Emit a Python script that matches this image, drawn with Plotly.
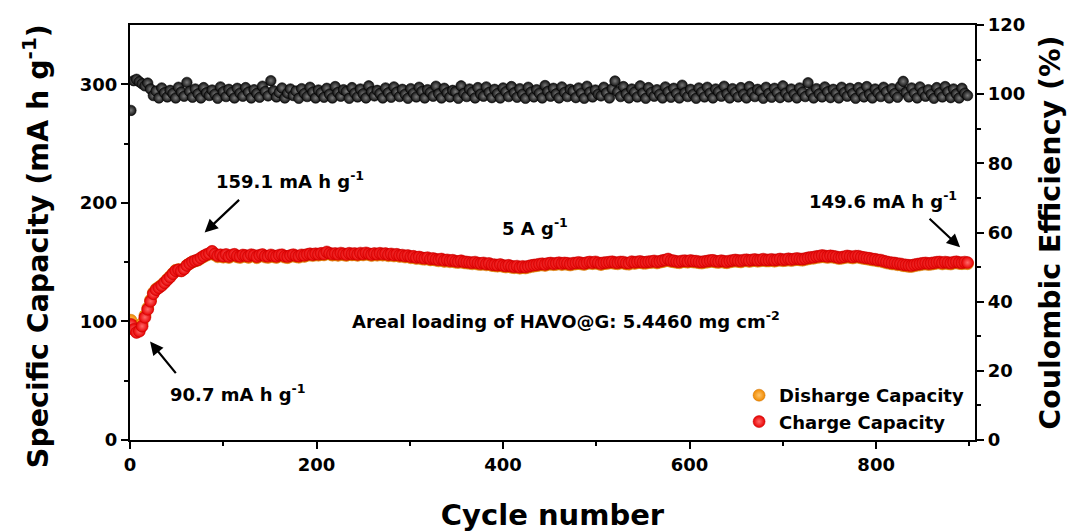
import plotly.graph_objects as go

# Cycle index (every 3rd cycle recorded)
cycles = list(range(1, 901, 3))

charge_capacity = [
    97.5, 93.2, 90.7, 91.8, 96.0, 103.5, 110.2, 117.0, 123.4, 126.8,
    128.5, 130.2, 132.6, 135.1, 137.4, 140.2, 142.8, 143.5, 142.6, 144.3,
    147.2, 148.8, 150.3, 151.2, 152.0, 153.6, 155.1, 156.4, 157.3, 159.1,
    156.9, 155.4, 156.2, 155.0, 156.5, 154.7, 155.9, 156.6, 155.2, 154.8,
    156.0, 155.5, 154.9, 156.3, 155.7, 154.6, 155.8, 156.4, 155.1, 154.9,
    156.1, 155.3, 154.8, 155.9, 156.2, 155.0, 154.7, 155.6, 156.3, 155.4,
    155.0, 156.1, 155.7, 156.5, 157.0, 156.3, 157.1, 156.6, 157.4, 156.9,
    158.6, 157.5, 156.8, 157.3, 156.6, 157.6, 157.0, 156.4, 157.5, 156.9,
    157.2, 156.5, 157.6, 156.9, 157.8, 157.1, 156.4, 157.3, 156.7, 157.5,
    156.8, 157.2, 156.3, 156.9, 156.1, 156.6, 155.7, 155.9, 155.2, 155.5,
    154.6, 154.9, 153.9, 154.3, 153.6, 153.2, 153.8, 152.7, 153.1, 152.4,
    152.0, 152.6, 151.5, 151.9, 151.2, 151.6, 150.8, 150.5, 151.1, 150.3,
    150.1, 149.8, 149.5, 150.0, 149.2, 148.8, 149.3, 148.5, 148.9, 147.9,
    147.8, 147.4, 148.0, 147.2, 146.8, 147.3, 146.5, 146.1, 146.6, 145.7,
    146.4, 145.9, 146.5, 147.1, 147.5, 147.8, 148.3, 148.6, 148.1, 148.9,
    149.2, 148.7, 149.0, 149.5, 148.8, 149.3, 149.0, 148.4, 149.1, 149.3,
    149.8, 149.2, 148.9, 149.6, 150.1, 149.5, 150.2, 149.4, 148.8, 149.5,
    149.7, 150.0, 150.3, 149.6, 149.5, 150.1, 150.0, 149.3, 149.2, 150.4,
    149.8, 150.2, 150.6, 149.9, 149.9, 150.4, 150.5, 151.0, 150.2, 150.7,
    151.3, 151.8, 152.6, 151.4, 151.1, 150.6, 150.4, 151.0, 151.2, 150.7,
    151.4, 150.9, 150.8, 150.3, 150.1, 150.6, 150.9, 151.3, 151.5, 150.8,
    150.6, 151.2, 150.7, 150.3, 151.0, 151.4, 151.8, 151.3, 151.1, 151.7,
    152.0, 151.4, 151.9, 152.2, 151.6, 151.9, 152.5, 151.8, 151.9, 152.3,
    151.7, 152.1, 152.6, 152.0, 152.3, 152.8, 152.2, 152.6, 153.1, 152.7,
    152.5, 153.0, 153.6, 154.0, 154.2, 154.8, 155.0, 155.6, 155.2, 154.8,
    155.3, 154.9, 154.5, 153.8, 154.1, 154.6, 155.2, 154.8, 154.4, 155.0,
    155.0, 154.3, 153.9, 153.5, 153.2, 152.6, 152.4, 151.8, 151.7, 150.9,
    150.3, 149.8, 149.4, 149.2, 148.7, 148.5, 147.9, 147.6, 147.3, 147.1,
    147.8, 148.2, 148.6, 149.0, 149.3, 148.8, 149.1, 149.5, 149.9, 150.1,
    149.4, 150.0, 149.6, 149.2, 149.9, 150.3, 149.7, 149.5, 150.0, 149.6,
]

discharge_capacity = [
    101.0, 96.0, 93.4, 94.6, 98.5, 105.0, 111.4, 118.0, 124.2, 127.4,
    129.0, 130.8, 133.0, 135.6, 137.9, 140.6, 143.1, 143.7, 142.8, 144.5,
    147.3, 148.9, 150.2, 151.0, 151.7, 153.2, 154.6, 155.8, 156.6, 158.4,
    156.1, 154.5, 155.3, 154.2, 155.6, 153.9, 155.0, 155.7, 154.4, 153.9,
    155.1, 154.7, 154.0, 155.4, 154.9, 153.7, 154.9, 155.5, 154.3, 154.0,
    155.2, 154.5, 153.9, 155.0, 155.3, 154.2, 153.8, 154.8, 155.4, 154.6,
    154.1, 155.3, 154.8, 155.7, 156.1, 155.5, 156.2, 155.8, 156.5, 156.1,
    157.7, 156.7, 155.9, 156.5, 155.7, 156.8, 156.1, 155.6, 156.6, 156.1,
    156.3, 155.7, 156.7, 156.1, 156.9, 156.3, 155.5, 156.5, 155.8, 156.7,
    155.9, 156.4, 155.4, 156.1, 155.2, 155.8, 154.8, 155.1, 154.3, 154.7,
    153.7, 154.1, 153.0, 153.5, 152.7, 152.4, 152.9, 151.9, 152.2, 151.6,
    151.1, 151.8, 150.6, 151.1, 150.3, 150.8, 149.9, 149.7, 150.2, 149.5,
    149.2, 149.0, 148.6, 149.2, 148.3, 148.0, 148.4, 147.7, 148.0, 147.1,
    146.9, 146.6, 147.1, 146.4, 145.9, 146.5, 145.6, 145.3, 145.7, 144.9,
    145.5, 145.1, 145.6, 146.3, 146.6, 147.0, 147.4, 147.8, 147.2, 148.1,
    148.3, 147.9, 148.1, 148.7, 147.9, 148.5, 148.1, 147.6, 148.2, 148.5,
    148.9, 148.4, 148.0, 148.8, 149.2, 148.7, 149.3, 148.6, 147.9, 148.7,
    148.8, 149.2, 149.4, 148.8, 148.6, 149.3, 149.1, 148.5, 148.3, 149.6,
    148.9, 149.4, 149.7, 149.1, 149.0, 149.6, 149.6, 150.2, 149.3, 149.9,
    150.4, 151.0, 151.7, 150.6, 150.2, 149.8, 149.5, 150.2, 150.3, 149.9,
    150.5, 150.1, 149.9, 149.5, 149.2, 149.8, 150.0, 150.5, 150.6, 150.0,
    149.7, 150.4, 149.8, 149.5, 150.1, 150.6, 150.9, 150.5, 150.2, 150.9,
    151.1, 150.6, 151.0, 151.4, 150.7, 151.1, 151.6, 151.0, 151.0, 151.5,
    150.8, 151.3, 151.7, 151.2, 151.4, 152.0, 151.3, 151.8, 152.2, 151.9,
    151.6, 152.2, 152.7, 153.2, 153.3, 154.0, 154.1, 154.8, 154.3, 154.0,
    154.4, 154.1, 153.6, 153.0, 153.2, 153.8, 154.3, 154.0, 153.5, 154.2,
    154.1, 153.5, 153.0, 152.7, 152.3, 151.8, 151.5, 151.0, 150.8, 150.1,
    149.4, 149.0, 148.5, 148.4, 147.8, 147.7, 147.0, 146.8, 146.4, 146.3,
    146.9, 147.4, 147.7, 148.2, 148.4, 148.0, 148.2, 148.7, 149.0, 149.3,
    148.5, 149.2, 148.7, 148.4, 149.0, 149.5, 148.8, 148.7, 149.1, 148.7,
]

coulombic_efficiency = [
    95.3, 103.9, 104.3, 103.6, 103.0, 102.4, 103.2, 101.5, 99.6, 100.9,
    98.9, 101.8, 100.4, 99.2, 101.1, 100.2, 98.9, 102.0, 100.6, 99.4,
    103.4, 100.8, 99.1, 101.5, 100.1, 98.9, 101.9, 100.4, 99.6, 101.2,
    100.0, 98.8, 102.1, 100.7, 99.3, 101.4, 100.5, 98.9, 101.7, 100.3,
    99.4, 101.9, 100.6, 98.9, 101.3, 100.2, 99.1, 102.3, 100.8, 99.5,
    103.9, 101.0, 99.2, 100.5, 101.8, 98.9, 100.3, 101.5, 99.6, 100.9,
    98.8, 101.6, 100.2, 99.3, 102.0, 100.6, 98.9, 101.2, 100.4, 99.1,
    101.7, 100.0, 98.9, 102.2, 100.5, 99.4, 101.3, 100.8, 98.8, 101.9,
    100.3, 99.2, 101.5, 100.1, 98.9, 102.4, 100.7, 99.5, 101.1, 100.2,
    98.9, 101.8, 100.4, 99.1, 102.1, 100.6, 99.3, 101.4, 100.0, 98.8,
    101.6, 100.3, 99.2, 102.0, 100.8, 98.9, 101.3, 100.5, 99.4, 102.3,
    100.1, 98.9, 101.7, 100.4, 99.2, 101.1, 100.7, 98.8, 102.4, 100.2,
    99.3, 101.5, 100.6, 98.9, 101.9, 100.0, 99.4, 102.1, 100.5, 99.0,
    101.4, 100.2, 98.9, 101.8, 100.7, 99.3, 102.2, 100.4, 99.1, 101.6,
    100.0, 98.8, 102.0, 100.6, 99.2, 101.3, 100.3, 98.9, 102.5, 100.8,
    99.4, 101.7, 100.1, 98.9, 102.1, 100.5, 99.3, 101.4, 100.9, 99.0,
    101.8, 100.3, 98.8, 102.3, 100.6, 99.2, 101.2, 100.0, 99.5, 102.0,
    100.4, 98.9, 101.6, 103.8, 100.7, 99.3, 102.2, 100.1, 98.9, 101.5,
    100.6, 99.2, 102.4, 100.3, 98.8, 101.9, 100.5, 99.4, 101.3, 100.0,
    98.9, 102.1, 100.7, 99.1, 101.7, 100.2, 98.9, 102.6, 100.4, 99.3,
    101.4, 100.0, 98.8, 101.8, 100.6, 99.2, 102.0, 100.3, 98.9, 101.5,
    100.7, 99.4, 102.3, 100.1, 98.9, 101.6, 100.5, 99.2, 101.9, 100.0,
    98.9, 102.2, 100.4, 99.3, 101.4, 100.8, 98.8, 102.0, 100.2, 99.1,
    101.7, 100.5, 99.0, 102.4, 100.3, 99.2, 101.5, 100.0, 98.9, 101.8,
    100.6, 99.3, 103.3, 100.4, 98.9, 101.6, 100.1, 99.2, 102.1, 100.7,
    99.0, 101.4, 100.3, 98.9, 102.0, 100.5, 99.4, 101.7, 100.2, 98.8,
    101.9, 100.6, 99.2, 102.2, 100.0, 98.9, 101.5, 100.4, 99.3, 102.0,
    100.7, 98.9, 101.6, 100.2, 99.1, 102.3, 103.7, 100.5, 99.2, 101.8,
    100.3, 98.9, 102.1, 100.6, 99.4, 101.3, 100.0, 98.8, 101.9, 100.4,
    99.2, 102.2, 100.7, 99.0, 101.5, 100.1, 98.9, 101.7, 100.3, 99.6,
]

x_ticks = [0, 200, 400, 600, 800]
cap_ticks = [0, 100, 200, 300]
ce_ticks = [0, 20, 40, 60, 80, 100, 120]

FONT = "DejaVu Sans, Arial, sans-serif"


def bold_labels(values):
    return ["<b>%d</b>" % v for v in values]


fig = go.Figure()

fig.add_trace(go.Scatter(
    x=cycles, y=coulombic_efficiency, yaxis="y2", mode="markers",
    showlegend=False, name="Coulombic Efficiency",
    marker=dict(size=10.5, color="#111111",
                gradient=dict(type="radial", color="#7a7a7a"),
                line=dict(width=0.6, color="#000000")),
))
fig.add_trace(go.Scatter(
    x=cycles, y=discharge_capacity, mode="markers",
    name="<b>Disharge Capacity</b>",
    marker=dict(size=12, color="#F08A00",
                gradient=dict(type="radial", color="#FFC46A"),
                line=dict(width=0.5, color="#D07000")),
))
fig.add_trace(go.Scatter(
    x=cycles, y=charge_capacity, mode="markers",
    name="<b>Charge Capacity</b>",
    marker=dict(size=12, color="#E80000",
                gradient=dict(type="radial", color="#FF6A6A"),
                line=dict(width=0.5, color="#C00000")),
))

axis_common = dict(
    showline=True, linewidth=2.2, linecolor="black",
    ticks="outside", ticklen=7, tickwidth=2, tickcolor="black",
    showgrid=False, zeroline=False, automargin=False,
    tickfont=dict(family=FONT, size=18, color="black"),
)

fig.update_layout(
    width=1074, height=532,
    margin=dict(l=130, r=99, t=25, b=92),
    paper_bgcolor="white", plot_bgcolor="white",
    xaxis=dict(
        range=[0, 906], tickvals=x_ticks, ticktext=bold_labels(x_ticks),
        mirror=True,
        minor=dict(tickvals=[100, 300, 500, 700, 900], ticks="outside",
                   ticklen=4, tickwidth=2, tickcolor="black"),
        title=dict(text="<b>Cycle number</b>", standoff=34,
                   font=dict(family=FONT, size=29, color="black")),
        **axis_common,
    ),
    yaxis=dict(
        range=[0, 350], tickvals=cap_ticks, ticktext=bold_labels(cap_ticks),
        minor=dict(tickvals=[50, 150, 250], ticks="outside",
                   ticklen=4, tickwidth=2, tickcolor="black"),
        **axis_common,
    ),
    yaxis2=dict(
        range=[0, 120], tickvals=ce_ticks, ticktext=bold_labels(ce_ticks),
        overlaying="y", side="right",
        minor=dict(tickvals=[10, 30, 50, 70, 90, 110], ticks="outside",
                   ticklen=4, tickwidth=2, tickcolor="black"),
        **axis_common,
    ),
    legend=dict(
        x=0.993, y=0.0, xanchor="right", yanchor="bottom",
        bgcolor="rgba(0,0,0,0)", borderwidth=0,
        font=dict(family=FONT, size=18, color="black"),
        itemwidth=30, tracegroupgap=0,
    ),
)

# Vertical axis titles
title_font = dict(family=FONT, size=28.5, color="black")
fig.add_annotation(x=-0.112, y=0.468, xref="paper", yref="paper",
                   text="<b>Specific Capacity (mA h g<sup>-1</sup>)</b>",
                   textangle=-90, showarrow=False, font=title_font,
                   xanchor="center", yanchor="middle")
fig.add_annotation(x=1.089, y=0.50, xref="paper", yref="paper",
                   text="<b>Coulombic Efficiency (%)</b>",
                   textangle=-90, showarrow=False, font=title_font,
                   xanchor="center", yanchor="middle")

label_font = dict(family=FONT, size=18, color="black")

texts = [
    (171.6, 219.0, "<b>159.1 mA h g<sup>-1</sup></b>"),
    (434.0, 180.0, "<b>5 A g<sup>-1</sup></b>"),
    (467.6, 101.5, "<b>Areal loading of HAVO@G: 5.4460 mg cm<sup>-2</sup></b>"),
    (115.8, 39.6, "<b>90.7 mA h g<sup>-1</sup></b>"),
    (807.5, 202.0, "<b>149.6 mA h g<sup>-1</sup></b>"),
]
for tx, ty, label in texts:
    fig.add_annotation(x=tx, y=ty, xref="x", yref="y", text=label,
                       showarrow=False, font=label_font)

# Pointer arrows: head at (x, y), tail offset in pixels
arrows = [
    (80.0, 175.0, 36, -34),
    (21.5, 83.0, 27, 33),
    (890.0, 162.5, -32, -30),
]
for hx, hy, dx, dy in arrows:
    fig.add_annotation(x=hx, y=hy, xref="x", yref="y", text="",
                       showarrow=True, arrowhead=2, arrowsize=1.2,
                       arrowwidth=2.2, arrowcolor="black",
                       ax=dx, ay=dy, axref="pixel", ayref="pixel")

fig.write_html("out.html")
